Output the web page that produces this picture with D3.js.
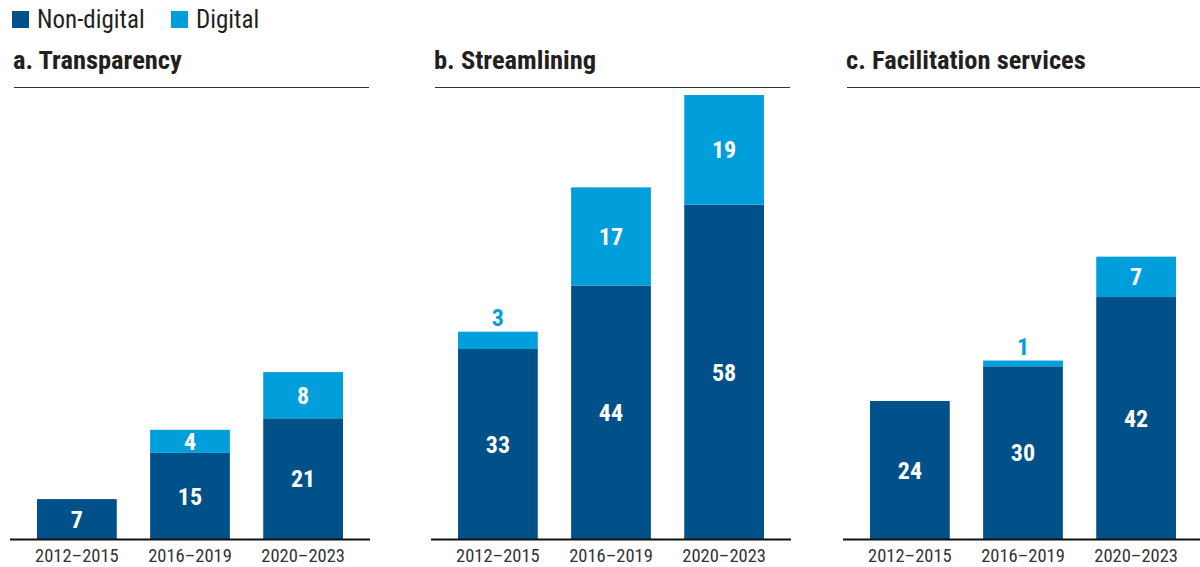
<!DOCTYPE html>
<html>
<head>
<meta charset="utf-8">
<script src="https://cdn.jsdelivr.net/npm/d3@7"></script>
<style>
  body { margin: 0; background: #fff; }
  svg text { font-family: "Liberation Sans Narrow", "Roboto Condensed", "DejaVu Sans Condensed", Roboto, sans-serif; font-stretch: condensed; }
</style>
</head>
<body>
<svg width="1200" height="567"></svg>
<script>
// data
var periods = ['2012–2015', '2016–2019', '2020–2023'];
var panelTitles = ['a. Transparency', 'b. Streamlining', 'c. Facilitation services'];
var nonDigital = [[7, 15, 21], [33, 44, 58], [24, 30, 42]];
var digital = [[0, 4, 8], [3, 17, 19], [0, 1, 7]];
var seriesNames = ['Non-digital', 'Digital'];

var darkBlue = '#00518a';
var lightBlue = '#009fdb';
var colors = d3.scaleOrdinal().domain(seriesNames).range([darkBlue, lightBlue]);

var svg = d3.select('svg');

// legend
var legend = svg.append('g');
var legendX = [12, 171];
seriesNames.forEach(function(name, i){
    var g = legend.append('g').attr('transform', 'translate(' + legendX[i] + ',0)');
    g.append('rect').attr('x', 0).attr('y', 11).attr('width', 17).attr('height', 17)
        .attr('fill', colors(name));
    g.append('text').attr('x', 25).attr('y', 28).attr('font-size', 25)
        .attr('fill', '#231f20').text(name);
});

var panelX = [11, 432, 844];
var panelW = 358;
var baseY = 539.5;

var x = d3.scaleBand().domain(periods).range([0, panelW])
    .paddingInner(0.295).paddingOuter(0.23);
var y = d3.scaleLinear().domain([0, 77]).range([baseY, 95]);

panelTitles.forEach(function(title, p){
    var g = svg.append('g').attr('transform', 'translate(' + panelX[p] + ',0)');

    g.append('text').attr('x', 2).attr('y', 69).attr('font-size', 26.5)
        .attr('font-weight', 'bold').attr('fill', '#231f20').text(title);
    g.append('line').attr('x1', 3).attr('x2', panelW).attr('y1', 87.5).attr('y2', 87.5)
        .attr('stroke', '#333').attr('stroke-width', 1.2);

    var rows = periods.map(function(per, i){
        return {period: per, 'Non-digital': nonDigital[p][i], 'Digital': digital[p][i]};
    });
    var stacked = d3.stack().keys(seriesNames)(rows);

    stacked.forEach(function(layer){
        var segs = layer.filter(function(d){ return d[1] > d[0]; });
        g.selectAll(null)
            .data(segs)
            .enter()
            .append('rect')
            .attr('x', function(d){ return x(d.data.period); })
            .attr('width', x.bandwidth())
            .attr('y', function(d){ return y(d[1]); })
            .attr('height', function(d){ return y(d[0]) - y(d[1]); })
            .attr('fill', colors(layer.key));

        // small digital segments get their label above the bar
        g.selectAll(null)
            .data(segs)
            .enter()
            .append('text')
            .attr('text-anchor', 'middle')
            .attr('font-size', 24)
            .attr('font-weight', 'bold')
            .attr('x', function(d){ return x(d.data.period) + x.bandwidth() / 2; })
            .attr('y', function(d){
                var v = d[1] - d[0];
                if (layer.key === 'Digital' && v < 4) return y(d[1]) - 6;
                return (y(d[0]) + y(d[1])) / 2 + 8.5;
            })
            .attr('fill', function(d){
                var v = d[1] - d[0];
                return (layer.key === 'Digital' && v < 4) ? lightBlue : '#fff';
            })
            .text(function(d){ return d[1] - d[0]; });
    });

    var axis = g.append('g').attr('transform', 'translate(0,' + baseY + ')')
        .call(d3.axisBottom(x).tickSize(0).tickPadding(9));
    axis.select('.domain').attr('stroke', '#111').attr('stroke-width', 2.2)
        .attr('d', 'M-1,0H' + (panelW + 1));
    axis.selectAll('.tick text').attr('font-size', 18.5).attr('fill', '#333')
        .attr('dy', '0.71em')
        .style('font-family', '"Liberation Sans Narrow", "Roboto Condensed", "DejaVu Sans Condensed", Roboto, sans-serif');
});
</script>
</body>
</html>
